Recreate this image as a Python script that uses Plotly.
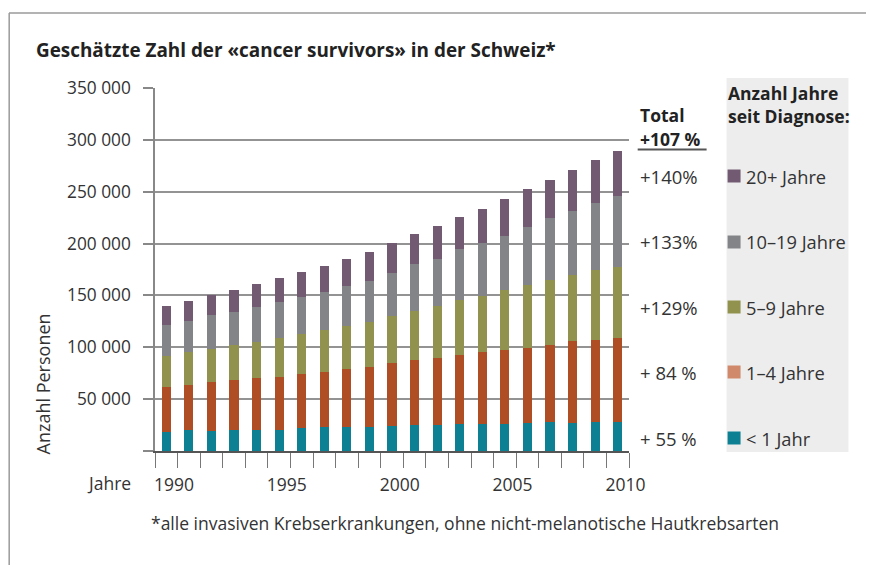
import plotly.graph_objects as go

# ---------------- data ----------------
years = list(range(1990, 2011))

lt1 = [18600, 20600, 19300, 20600, 20600, 20600, 22500, 23200, 23200, 23200, 24400,
       25100, 25100, 26400, 26400, 26400, 27000, 28300, 27000, 28300, 28300]
y1_4 = [43100, 43100, 47300, 48200, 50100, 50800, 51800, 53000, 55900, 57800, 60500,
        62700, 64600, 66200, 69100, 71000, 72400, 74000, 79100, 78800, 80700]
y5_9 = [29900, 31800, 31500, 33500, 34800, 37900, 38900, 40500, 41500, 43400, 45400,
        47200, 50500, 53400, 54300, 58200, 60700, 63000, 63700, 67800, 68800]
y10_19 = [29900, 29900, 33100, 31800, 33400, 34400, 35400, 36700, 38900, 39600, 41400,
          45400, 45000, 48900, 50800, 51800, 56000, 59500, 62000, 64600, 68500]
y20p = [18400, 19300, 19300, 21200, 22200, 23200, 24100, 25100, 25700, 28000, 28900,
        28900, 31800, 30800, 32800, 35700, 36600, 36600, 39300, 41200, 43100]

series_names = ["< 1 Jahr", "1–4 Jahre", "5–9 Jahre", "10–19 Jahre", "20+ Jahre"]
series_values = [lt1, y1_4, y5_9, y10_19, y20p]
growth_labels = ["+ 55 %", "+ 84 %", "+129%", "+133%", "+140%"]
total_growth = "+107 %"

y_tickvals = [0, 50000, 100000, 150000, 200000, 250000, 300000, 350000]
y_ticktext = ["", "50 000", "100 000", "150 000", "200 000", "250 000", "300 000", "350 000"]

title = "Geschätzte Zahl der «cancer survivors» in der Schweiz*"
footnote = "*alle invasiven Krebserkrankungen, ohne nicht-melanotische Hautkrebsarten"

# ---------------- style ----------------
bar_colors = ["#0E8093", "#AF4D24", "#91924E", "#838488", "#735A73"]
legend_colors = ["#0E8093", "#D0896A", "#91924E", "#838488", "#735A73"]
FONT = "Open Sans"
TXT = "#333333"
DARK = "#222222"

WIDTH, HEIGHT = 874, 565
OFF = 8  # page body margin
# plot area in page (viewport) pixels
L, R, T, B = 154.7, 629.3, 88, 451
PW, PH = R - L, B - T


def px(x):
    return (x - L) / PW


def py(y):
    return (B - y) / PH


fig = go.Figure()
for name, vals, col in zip(series_names, series_values, bar_colors):
    fig.add_trace(go.Bar(x=years, y=vals, name=name, marker=dict(color=col, line=dict(width=0)),
                         width=0.4, showlegend=False))

# x ticks on category boundaries, labels every 5 years
bounds = [y - 0.5 for y in years] + [years[-1] + 0.5]
btext = [str(int(b + 0.5)) if int(b + 0.5) % 5 == 0 else "" for b in bounds]

fig.update_layout(
    width=WIDTH, height=HEIGHT,
    margin=dict(l=L - OFF, r=WIDTH + OFF - R, t=T - OFF, b=HEIGHT + OFF - B, autoexpand=False),
    barmode="stack",
    plot_bgcolor="white", paper_bgcolor="white",
    font=dict(family=FONT, size=17, color=TXT),
    xaxis=dict(range=[bounds[0], bounds[-1]], tickmode="array", tickvals=bounds, ticktext=btext,
               ticks="outside", ticklen=15, tickcolor="#777777", tickwidth=1.2,
               showline=True, linecolor="#555555", linewidth=1.5, showgrid=False, zeroline=False,
               ticklabelshift=19, ticklabelstandoff=2,
               tickfont=dict(family=FONT, size=17.5, color=TXT)),
    yaxis=dict(range=[0, 350000], tickmode="array", tickvals=y_tickvals, ticktext=y_ticktext,
               ticks="outside", ticklen=10, tickcolor="#888888", tickwidth=1.5,
               showline=True, linecolor="#888888", linewidth=1.5,
               showgrid=True, gridcolor="#939393", gridwidth=1.8, zeroline=False,
               ticklabelstandoff=9,
               tickfont=dict(family=FONT, size=17.3, color=TXT)),
)

shapes = []
# frame lines
shapes.append(dict(type="line", xref="paper", yref="paper", x0=px(8.5), x1=px(882), y0=py(13), y1=py(13),
                   line=dict(color="#9a9a9a", width=1.5)))
shapes.append(dict(type="line", xref="paper", yref="paper", x0=px(8.7), x1=px(8.7), y0=py(13), y1=py(573),
                   line=dict(color="#9a9a9a", width=1.5)))
# legend background
shapes.append(dict(type="rect", xref="paper", yref="paper", x0=px(727), x1=px(849), y0=py(78), y1=py(452),
                   fillcolor="#EDEDED", line=dict(width=0), layer="below"))
# underline of total
shapes.append(dict(type="line", xref="paper", yref="paper", x0=px(638), x1=px(707), y0=py(149.5), y1=py(149.5),
                   line=dict(color="#555555", width=2)))

annotations = []
annotations.append(dict(text="<b>" + title + "</b>", xref="paper", yref="paper", x=px(34), y=py(50),
                        xanchor="left", yanchor="middle", showarrow=False,
                        font=dict(family=FONT, size=18.9, color=DARK)))
annotations.append(dict(text=footnote, xref="paper", yref="paper", x=px(149), y=py(523),
                        xanchor="left", yanchor="middle", showarrow=False,
                        font=dict(family=FONT, size=17.5, color=TXT)))
annotations.append(dict(text="Anzahl Personen", xref="paper", yref="paper", x=px(43), y=py(384),
                        textangle=-90, xanchor="center", yanchor="middle", showarrow=False,
                        font=dict(family=FONT, size=18, color=TXT)))
annotations.append(dict(text="Jahre", xref="paper", yref="paper", x=px(133), y=py(483),
                        xanchor="right", yanchor="middle", showarrow=False,
                        font=dict(family=FONT, size=17.5, color=TXT)))
annotations.append(dict(text="<b>Total</b>", xref="paper", yref="paper", x=px(638), y=py(115),
                        xanchor="left", yanchor="middle", showarrow=False,
                        font=dict(family=FONT, size=17.5, color=DARK)))
annotations.append(dict(text="<b>" + total_growth + "</b>", xref="paper", yref="paper", x=px(638), y=py(139),
                        xanchor="left", yanchor="middle", showarrow=False,
                        font=dict(family=FONT, size=17.5, color=DARK)))
annotations.append(dict(text="<b>Anzahl Jahre<br>seit Diagnose:</b>", xref="paper", yref="paper",
                        x=px(726), y=py(104), xanchor="left", yanchor="middle", align="left",
                        showarrow=False, font=dict(family=FONT, size=17.5, color=DARK)))

row_y = [438, 372, 307, 242, 176]
for name, g, lc, ry in zip(series_names, growth_labels, legend_colors, row_y):
    annotations.append(dict(text=g, xref="paper", yref="paper", x=px(638), y=py(ry),
                            xanchor="left", yanchor="middle", showarrow=False,
                            font=dict(family=FONT, size=18.5, color=TXT)))
    annotations.append(dict(text=name, xref="paper", yref="paper", x=px(744), y=py(ry),
                            xanchor="left", yanchor="middle", showarrow=False,
                            font=dict(family=FONT, size=18.3, color=TXT)))
    shapes.append(dict(type="rect", xref="paper", yref="paper", x0=px(728), x1=px(741),
                       y0=py(ry + 6.5), y1=py(ry - 6.5), fillcolor=lc, line=dict(width=0)))

fig.update_layout(shapes=shapes, annotations=annotations)
fig.write_html("out.html")
